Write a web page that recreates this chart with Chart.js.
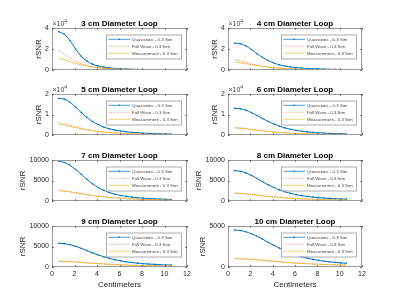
<!DOCTYPE html>
<html><head><meta charset="utf-8">
<script src="https://cdn.jsdelivr.net/npm/chart.js@4"></script>
<style>
body{margin:0;background:#fff;width:400px;height:300px;overflow:hidden;position:relative}
canvas{position:absolute;left:0;top:0}
</style></head>
<body>
<script>
// ---------------- data ----------------
const xCm = [0.6,1.1,1.6,2.1,2.6,3.1,3.6,4.1,4.6,5.1,5.6,6.1,6.6,7.1,7.6,8.1,8.6,9.1,9.6,10.1,10.6];
const loopTitles = ['3 cm Diameter Loop','4 cm Diameter Loop','5 cm Diameter Loop','6 cm Diameter Loop',
                    '7 cm Diameter Loop','8 cm Diameter Loop','9 cm Diameter Loop','10 cm Diameter Loop'];
const legendLabels = ['Quasistatic - 0.3 Sim','Full Wave - 0.3 Sim','Measurement - 0.3 Sim'];
const xTickValues = [0,2,4,6,8,10,12];
const xLabel = 'Centimeters';
const yLabel = 'rSNR';

const quasi3cm = [36500,34000,28000,20000,13000,8500,5600,3800,2700,2000,1500,1150,900,720,580,470,390,320,270,230,200];
const fullWave3cm = [18500,15000,11500,8500,6200,4500,3300,2400,1800,1350,1050,800,630,500,400,330,270,230,190,160,140];
const meas3cm = [11400,9800,8000,6300,4900,3700,2800,2100,1600,1250,980,770,620,500,410,340,280,240,200,170,150];

const quasi4cm = [25500,25000,23000,19500,15500,12000,9000,6700,5000,3800,2900,2250,1800,1450,1180,970,810,680,580,500,430];
const fullWave4cm = [10200,8800,7300,5900,4700,3700,2900,2300,1800,1450,1150,930,760,620,520,430,360,310,260,230,200];
const meas4cm = [7800,7000,6000,5000,4100,3300,2700,2150,1750,1400,1150,940,780,650,540,460,390,340,290,250,220];

const quasi5cm = [17900,17500,16000,13600,11000,8600,6600,5100,3900,3050,2400,1950,1580,1300,1080,910,770,660,570,500,440];
const fullWave5cm = [6200,5600,4800,4000,3300,2700,2200,1800,1480,1220,1010,850,720,610,530,460,400,350,310,280,250];
const meas5cm = [5200,4800,4200,3600,3000,2500,2050,1700,1400,1160,970,820,700,600,520,450,400,350,310,280,250];

const quasi6cm = [13000,12800,12100,10900,9500,8000,6600,5400,4300,3450,2750,2250,1850,1520,1270,1070,910,780,680,590,520];
const fullWave6cm = [3800,3550,3200,2800,2400,2050,1750,1480,1260,1070,920,790,690,600,530,470,420,380,340,310,280];
const meas6cm = [3400,3250,2950,2600,2250,1950,1670,1420,1210,1040,890,770,670,590,520,460,410,370,330,300,270];

const quasi7cm = [9700,9400,8700,7700,6500,5300,4200,3300,2600,2050,1650,1350,1120,940,800,690,600,530,470,420,380];
const fullWave7cm = [2650,2500,2280,2030,1790,1570,1370,1180,1020,880,760,660,580,510,450,400,360,320,290,265,240];
const meas7cm = [2500,2400,2220,1990,1760,1550,1350,1170,1010,870,750,650,570,500,440,390,350,310,280,250,230];

const quasi8cm = [7400,7250,6850,6250,5500,4700,3950,3300,2700,2250,1850,1550,1300,1100,950,820,720,630,560,500,450];
const fullWave8cm = [1950,1880,1760,1620,1460,1300,1150,1010,890,780,690,610,540,480,430,390,350,320,290,265,245];
const meas8cm = [1900,1830,1720,1580,1430,1280,1130,990,870,770,680,600,530,470,420,380,340,310,280,255,235];

const quasi9cm = [5800,5700,5450,5050,4550,4000,3450,2950,2500,2100,1770,1500,1270,1090,940,820,720,640,570,510,460];
const fullWave9cm = [1450,1420,1350,1260,1160,1050,950,850,760,680,610,550,490,440,400,365,335,310,285,265,245];
const meas9cm = [1350,1320,1260,1180,1090,1000,900,810,730,650,580,520,470,430,390,355,325,300,275,255,235];

const quasi10cm = [4500,4450,4300,4050,3750,3400,3000,2650,2300,1980,1700,1460,1250,1080,930,810,710,630,560,500,450];
const fullWave10cm = [1050,1040,1000,950,890,830,760,700,640,580,530,480,440,400,370,340,310,290,270,250,235];
const meas10cm = [1000,990,960,910,860,800,740,680,620,570,520,470,430,395,365,335,310,285,265,245,230];

const yMaxValues = [40000,40000,20000,20000,10000,10000,10000,5000];
const yStepValues = [20000,20000,10000,10000,5000,5000,5000,5000];
const yExponents = [4,4,4,4,0,0,0,0];

const seriesByPanel = [
  [quasi3cm, fullWave3cm, meas3cm], [quasi4cm, fullWave4cm, meas4cm],
  [quasi5cm, fullWave5cm, meas5cm], [quasi6cm, fullWave6cm, meas6cm],
  [quasi7cm, fullWave7cm, meas7cm], [quasi8cm, fullWave8cm, meas8cm],
  [quasi9cm, fullWave9cm, meas9cm], [quasi10cm, fullWave10cm, meas10cm]
];

// ---------------- layout / style ----------------
const W = 400, H = 300;
const colLeft = [52, 228], colRight = [187, 362];
const rowTop = [28, 94, 160, 226], rowBottom = [70, 135, 201, 267];
const FONT = '"Liberation Sans", Arial, Helvetica, sans-serif';
const colors = ['#0072BD', '#D95319', '#EDB120'];
const axisColor = '#262626';
const boxColor = '#9a9a9a';

function fmtTick(v, exp) {
  const d = v / Math.pow(10, exp);
  return String(Math.round(d * 1000) / 1000);
}

const framePlugin = {
  id: 'matlabFrame',
  afterDraw(chart) {
    const o = chart.options.plugins.matlabFrame;
    const ctx = chart.ctx;
    const a = chart.chartArea;
    const xs = chart.scales.x, ys = chart.scales.y;
    ctx.save();
    // box
    ctx.strokeStyle = boxColor;
    ctx.lineWidth = 1;
    ctx.strokeRect(Math.round(a.left) + 0.5, Math.round(a.top) + 0.5,
                   Math.round(a.right - a.left) - 1, Math.round(a.bottom - a.top) - 1);
    // inward ticks
    ctx.strokeStyle = '#666';
    ctx.beginPath();
    const tl = 1.8;
    xs.ticks.forEach(t => {
      const px = Math.round(xs.getPixelForValue(t.value)) + 0.5;
      ctx.moveTo(px, a.bottom); ctx.lineTo(px, a.bottom - tl);
      ctx.moveTo(px, a.top); ctx.lineTo(px, a.top + tl);
    });
    ys.ticks.forEach(t => {
      const py = Math.round(ys.getPixelForValue(t.value)) + 0.5;
      ctx.moveTo(a.left, py); ctx.lineTo(a.left + tl, py);
      ctx.moveTo(a.right, py); ctx.lineTo(a.right - tl, py);
    });
    ctx.stroke();
    // title
    ctx.fillStyle = '#000';
    ctx.font = 'bold 8px ' + FONT;
    ctx.textAlign = 'center';
    ctx.textBaseline = 'alphabetic';
    ctx.fillText(o.title, (a.left + a.right) / 2, a.top - 2.5);
    // exponent
    if (o.exp) {
      ctx.fillStyle = '#444';
      ctx.textAlign = 'left';
      ctx.font = '7px ' + FONT;
      const base = '\u00d710';
      ctx.fillText(base, a.left + 0.5, a.top - 2);
      const bw = ctx.measureText(base).width;
      ctx.font = '5px ' + FONT;
      ctx.fillText(String(o.exp), a.left + 0.5 + bw, a.top - 5);
    }
    // y label
    ctx.font = '7px ' + FONT;
    let maxW = 0;
    ys.ticks.forEach(t => { maxW = Math.max(maxW, ctx.measureText(fmtTick(t.value, o.exp)).width); });
    ctx.save();
    ctx.translate(a.left - 3 - maxW - 6.5, (a.top + a.bottom) / 2);
    ctx.rotate(-Math.PI / 2);
    ctx.fillStyle = axisColor;
    ctx.font = '8px ' + FONT;
    ctx.textAlign = 'center';
    ctx.textBaseline = 'middle';
    ctx.fillText(yLabel, 0, 0);
    ctx.restore();
    // x label
    if (o.showX) {
      ctx.fillStyle = axisColor;
      ctx.font = '8px ' + FONT;
      ctx.textAlign = 'center';
      ctx.textBaseline = 'middle';
      ctx.fillText(xLabel, (a.left + a.right) / 2, a.bottom + 18);
    }
    // legend
    const lw = 75, lh = 24;
    const lx = a.right - 6 - lw, ly = a.top + 6.5;
    ctx.fillStyle = '#fff';
    ctx.fillRect(lx, ly, lw, lh);
    ctx.strokeStyle = boxColor;
    ctx.lineWidth = 0.8;
    ctx.strokeRect(lx + 0.5, ly + 0.5, lw, lh);
    for (let i = 0; i < 3; i++) {
      const yy = ly + 4.8 + i * 7;
      ctx.strokeStyle = colors[i];
      ctx.globalAlpha = i === 0 ? 0.9 : 0.75;
      ctx.lineWidth = 0.8;
      ctx.setLineDash(i === 1 ? [1, 1.4] : []);
      ctx.beginPath();
      ctx.moveTo(lx + 2.5, yy); ctx.lineTo(lx + 24, yy);
      ctx.stroke();
      ctx.setLineDash([]);
      ctx.globalAlpha = 1;
      if (i === 0) {
        ctx.fillStyle = colors[0];
        ctx.beginPath(); ctx.arc(lx + 13.2, yy, 0.8, 0, Math.PI * 2); ctx.fill();
      }
      ctx.fillStyle = '#444';
      ctx.font = '4.4px ' + FONT;
      ctx.textAlign = 'left';
      ctx.textBaseline = 'middle';
      ctx.fillText(legendLabels[i], lx + 26, yy);
    }
    ctx.restore();
  }
};

for (let p = 0; p < 8; p++) {
  const col = p % 2, row = Math.floor(p / 2);
  const bottomRow = row === 3;
  const left = colLeft[col], right = colRight[col];
  const top = rowTop[row], bottom = rowBottom[row];
  const xH = bottomRow ? 10 : 0;
  const cv = document.createElement('canvas');
  cv.width = W; cv.height = H;
  cv.style.width = W + 'px'; cv.style.height = H + 'px';
  document.body.appendChild(cv);
  const exp = yExponents[p];
  const series = seriesByPanel[p];
  const mk = arr => xCm.map((x, i) => ({ x: x, y: arr[i] }));
  new Chart(cv.getContext('2d'), {
    type: 'line',
    data: {
      datasets: [
        { label: legendLabels[2], data: mk(series[2]), borderColor: 'rgba(237,177,32,0.85)', borderWidth: 0.9,
          pointRadius: 0, tension: 0.35, order: 1 },
        { label: legendLabels[1], data: mk(series[1]), borderColor: 'rgba(217,83,25,0.8)', borderWidth: 0.9,
          borderDash: [1, 1.5], pointRadius: 0, tension: 0.35, order: 2 },
        { label: legendLabels[0], data: mk(series[0]), borderColor: colors[0], borderWidth: 1,
          pointRadius: 0.8, pointBorderWidth: 0, pointBackgroundColor: colors[0], tension: 0.35, order: 3 }
      ]
    },
    options: {
      responsive: false, animation: false, devicePixelRatio: 1,
      layout: { padding: { left: 0, right: W - right, top: top, bottom: H - bottom - xH } },
      plugins: {
        legend: { display: false }, tooltip: { enabled: false }, title: { display: false },
        matlabFrame: { title: loopTitles[p], exp: exp, showX: bottomRow }
      },
      scales: {
        x: {
          type: 'linear', min: 0, max: 12,
          afterFit: s => { s.height = xH; },
          afterBuildTicks: s => { s.ticks = xTickValues.map(v => ({ value: v })); },
          grid: { display: false, drawTicks: false }, border: { display: false },
          ticks: { display: bottomRow, padding: 2.5, autoSkip: false, maxRotation: 0,
                   color: axisColor, font: { family: FONT, size: 7 } }
        },
        y: {
          min: 0, max: yMaxValues[p],
          afterFit: s => { s.width = left; },
          ticks: { stepSize: yStepValues[p], padding: 3, autoSkip: false, color: axisColor,
                   font: { family: FONT, size: 7 }, callback: v => fmtTick(v, exp) },
          grid: { display: false, drawTicks: false }, border: { display: false }
        }
      }
    },
    plugins: [framePlugin]
  });
}
</script>
</body></html>
